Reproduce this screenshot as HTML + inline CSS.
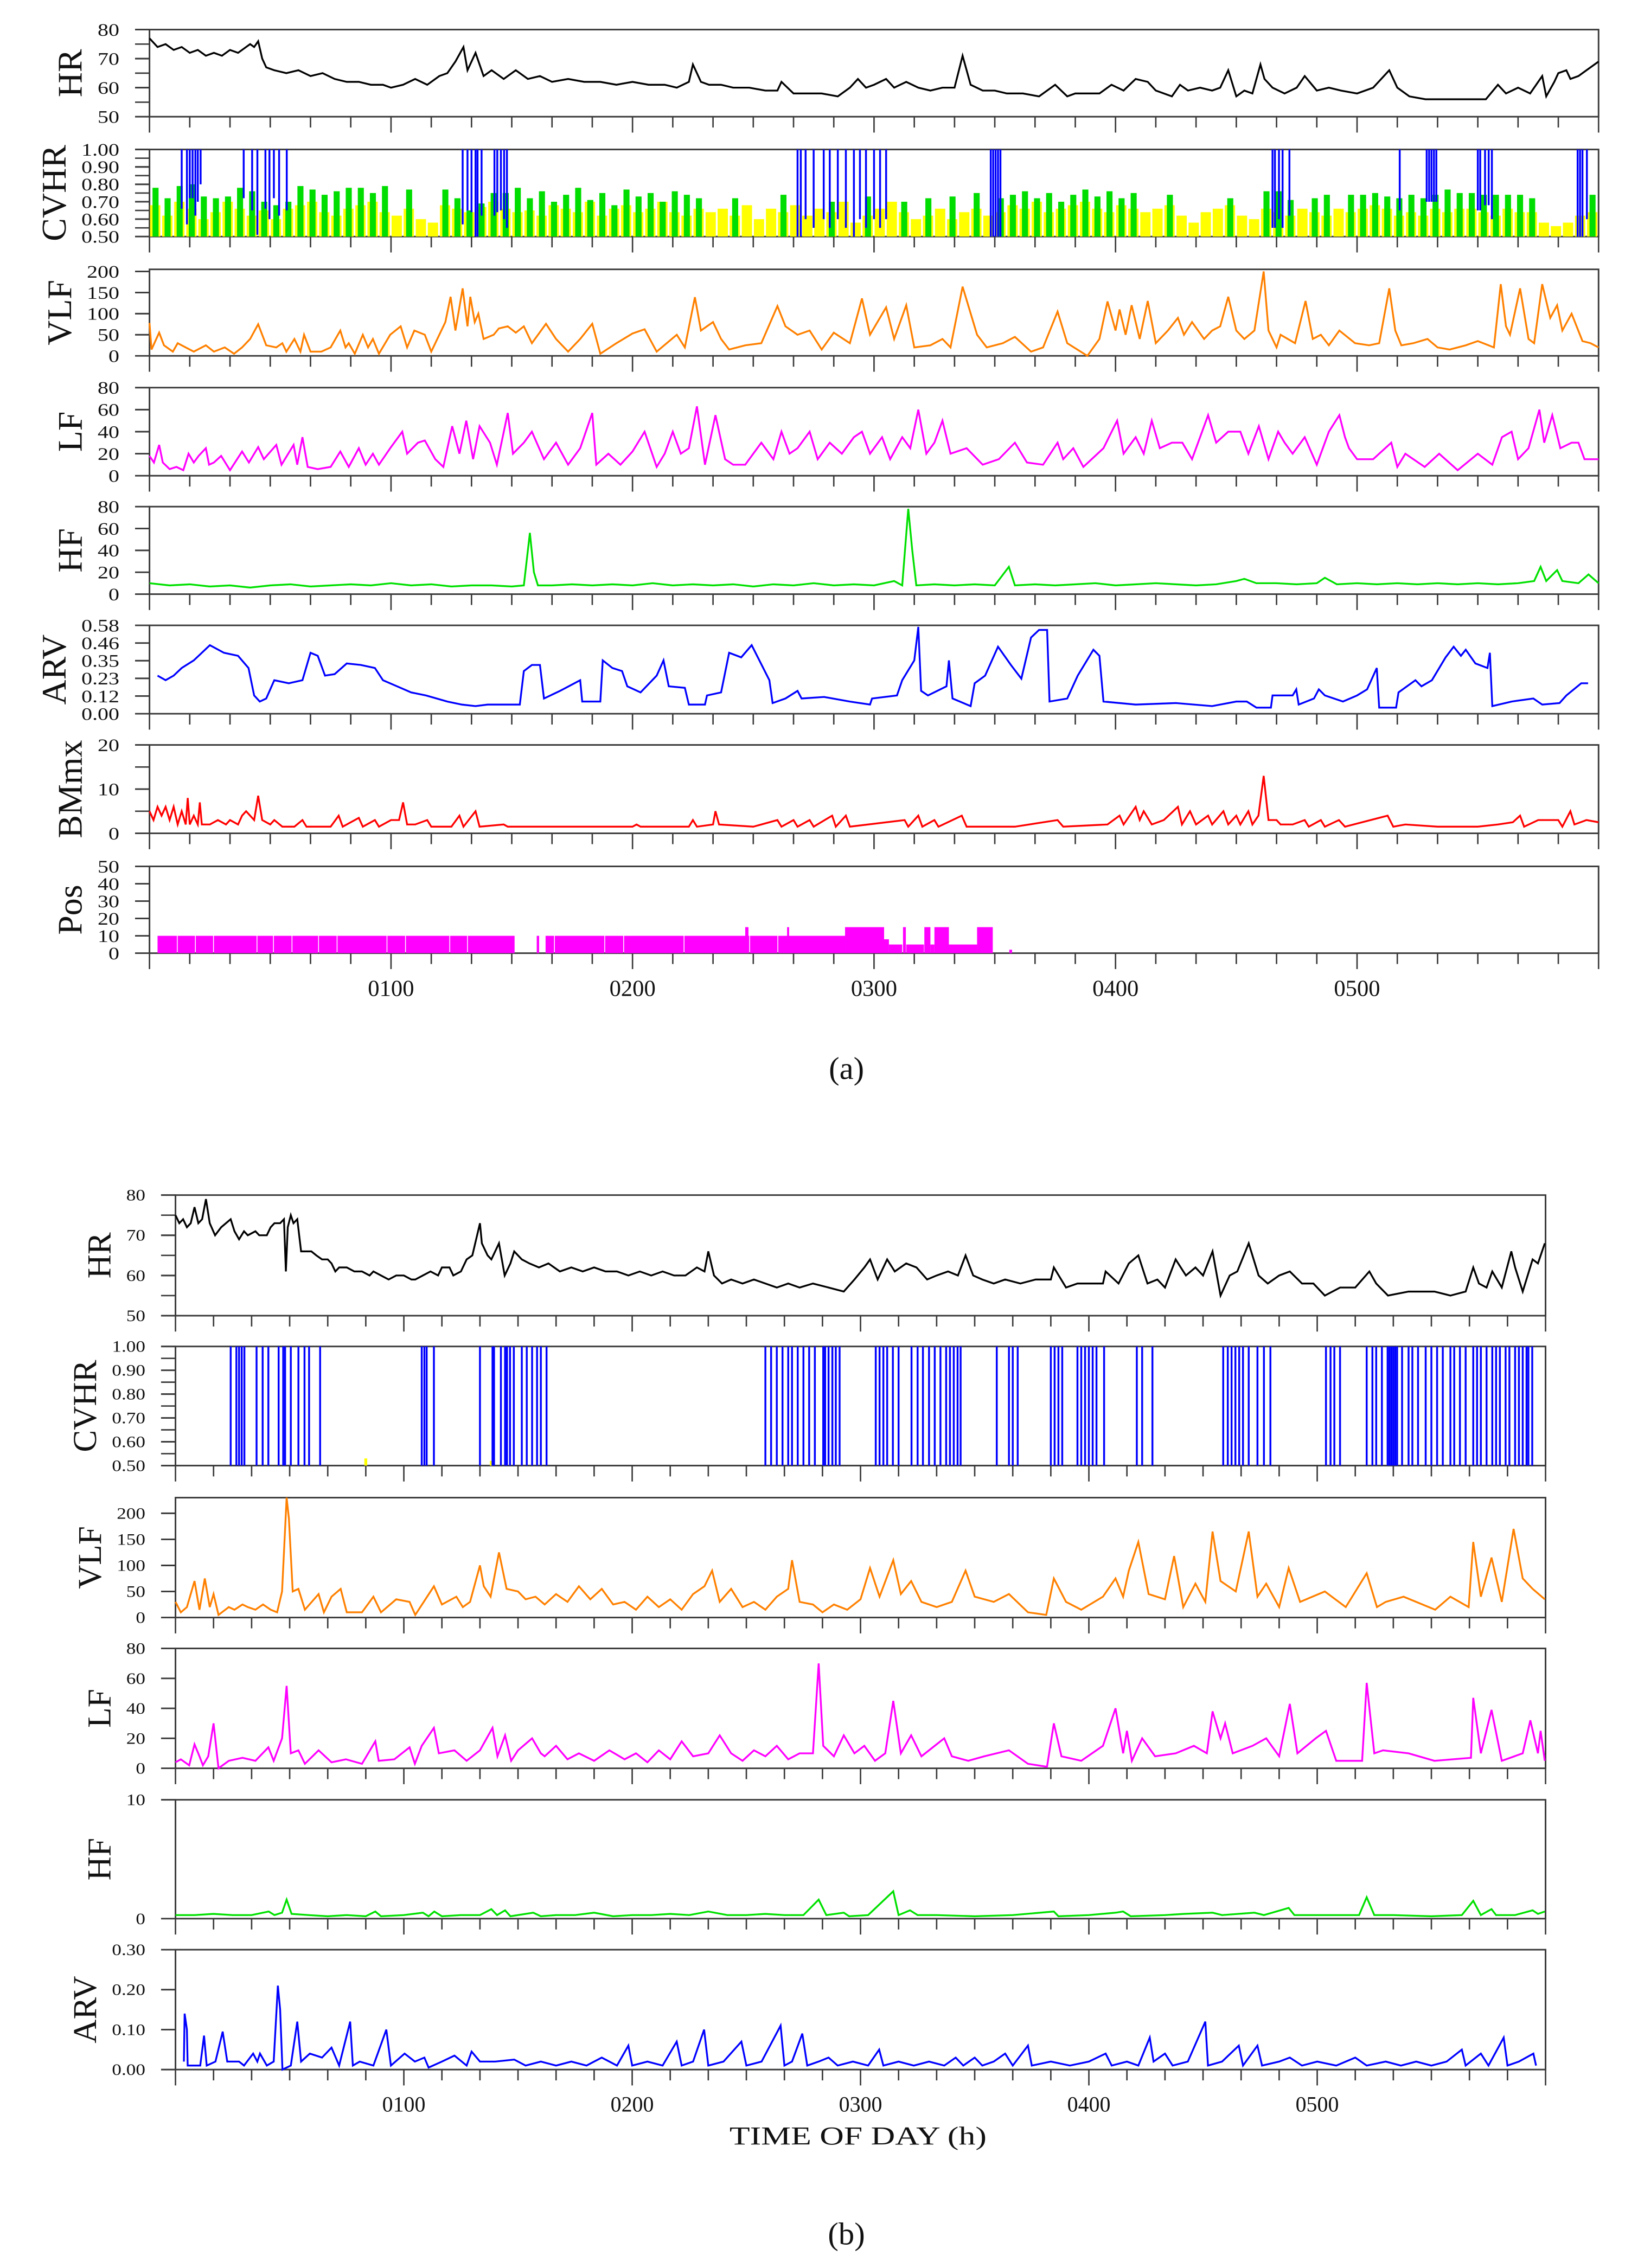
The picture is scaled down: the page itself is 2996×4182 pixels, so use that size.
<!DOCTYPE html>
<html><head><meta charset="utf-8"><title>HRV overnight traces</title>
<style>
html,body{margin:0;padding:0;background:#fff;}
svg{display:block;}
text{font-family:"Liberation Serif","DejaVu Serif",serif;fill:#111;}
</style></head>
<body>
<svg id="chart" xmlns="http://www.w3.org/2000/svg" width="2996" height="4182" viewBox="0 0 1125 1570.4" preserveAspectRatio="none">
<rect x="0" y="0" width="1125" height="1570.4" fill="#fff"/>
<text x="586" y="747" font-size="22" text-anchor="middle">(a)</text>
<text x="594" y="1485" font-size="18" text-anchor="middle" textLength="178" lengthAdjust="spacingAndGlyphs">TIME OF DAY (h)</text>
<text x="586" y="1554" font-size="22" text-anchor="middle">(b)</text>
</svg>
<script>
// ---------------- DATA (time in minutes from 00:00, value) ----------------
const hourTicks=[60,120,180,240,300];
const hourLabels=['0100','0200','0300','0400','0500'];

const hrA=[[0,77],[2,74],[4,75],[6,73],[8,74],[10,72],[12,73],[14,71],[16,72],[18,71],[20,73],[22,72],[24,74],[25,75],[26,74],[27,76],[28,70],[29,67],[31,66],[34,65],[37,66],[40,64],[43,65],[46,63],[49,62],[52,62],[55,61],[58,61],[60,60],[63,61],[66,63],[69,61],[72,64],[74,65],[76,69],[78,74],[79,66],[81,72],[83,64],[85,66],[88,63],[91,66],[94,63],[97,64],[100,62],[104,63],[108,62],[112,62],[116,61],[120,62],[124,61],[128,61],[131,60],[134,62],[135,68],[137,62],[139,61],[142,61],[145,60],[149,60],[153,59],[156,59],[157,62],[160,58],[164,58],[167,58],[171,57],[174,60],[176,63],[178,60],[180,61],[183,63],[185,60],[188,62],[191,60],[194,59],[197,60],[200,60],[202,71],[204,61],[207,59],[210,59],[213,58],[217,58],[221,57],[225,61],[228,57],[230,58],[233,58],[236,58],[239,61],[242,59],[245,63],[248,62],[250,59],[252,58],[254,57],[256,61],[258,59],[261,60],[264,59],[266,60],[268,66],[270,57],[272,59],[274,58],[276,68],[277,63],[279,60],[282,58],[285,60],[287,64],[290,59],[293,60],[296,59],[300,58],[304,60],[308,66],[310,60],[313,57],[317,56],[322,56],[327,56],[332,56],[335,61],[337,58],[340,60],[343,58],[346,64],[347,57],[349,62],[350,65],[352,66],[353,63],[355,64],[357,66],[360,69]];

const cvhrGreenA=[0.78,0.72,0.79,0.80,0.73,0.72,0.73,0.78,0.76,0.70,0.68,0.70,0.79,0.77,0.74,0.76,0.78,0.78,0.75,0.79,0,0.77,0,0,0.77,0.72,0.65,0.69,0.75,0.75,0.78,
0.72,0.76,0.70,0.74,0.78,0.71,0.75,0.68,0.77,0.73,0.75,0.70,0.76,0.74,0.72,
0,0,0.72,0,0,0,0.74,0,
0,0,0.70,0,0,0.73,0,0,0.70,0,
0.72,0,0.73,0,0.75,0,0.72,
0.74,0.76,0.72,0.75,0.70,0.74,0.77,0.73,0.76,0.72,0.75,
0,0,0.74,0,0,0,0,0.72,0,0,
0.76,0.76,0.71,0,0.72,0.74,0,0.74,0.74,0.75,0.73,0.72,0.74,0.72,0.74,0.77,0.75,0.75,0.74,0.74,0.74,0.74,0.72,0,0,0,0,0.74];
const cvhrYellowA=[0.68,0.62,0.70,0.66,0.60,0.64,0.70,0.66,0.62,0.65,0.60,0.66,0.68,0.70,0.64,0.62,0.66,0.68,0.70,0.64,0.62,0.66,0.60,0.58,0.68,0.66,0.64,0.67,0.70,0.66,0.64,
0.65,0.62,0.68,0.66,0.64,0.70,0.62,0.66,0.68,0.64,0.66,0.70,0.64,0.62,0.66,
0.64,0.66,0.62,0.68,0.60,0.66,0.64,0.68,
0.62,0.66,0.64,0.70,0.58,0.62,0.66,0.70,0.64,0.60,
0.62,0.66,0.60,0.64,0.66,0.62,0.64,
0.68,0.66,0.70,0.64,0.66,0.68,0.70,0.66,0.64,0.68,0.66,
0.64,0.66,0.68,0.62,0.58,0.64,0.66,0.68,0.62,0.60,
0.66,0.64,0.62,0.66,0.64,0.62,0.66,0.64,0.66,0.68,0.66,0.62,0.64,0.62,0.66,0.64,0.66,0.66,0.64,0.62,0.66,0.64,0.64,0.58,0.56,0.58,0.62,0.64];
const cvhrBinMinutes=3;
const cvhrBlueA=[[8,0.66],[9.3,0.57],[10,0.72],[10.7,0.72],[11.4,0.62],[12,0.7],[12.7,0.8],[23.4,0.72],[25.5,0.65],[26.8,0.51],[28.8,0.66],[29.8,0.6],[30.9,0.72],[32.2,0.62],[34.1,0.65],[77.8,0.57],[79,0.65],[80,0.64],[81,0.5],[81.5,0.5],[82.5,0.62],[85.7,0.62],[86.4,0.64],[87.3,0.65],[88.1,0.6],[88.8,0.55],[161,0.5],[161.8,0.5],[163,0.6],[165,0.55],[167.5,0.6],[169,0.55],[171,0.6],[173,0.55],[175,0.5],[176.5,0.6],[178,0.55],[180,0.6],[181.5,0.55],[183,0.6],[209,0.5],[209.6,0.5],[210.2,0.5],[210.8,0.5],[211.4,0.5],[279,0.55],[279.6,0.55],[280.6,0.6],[281.5,0.55],[283.2,0.62],[310.6,0.65],[317.3,0.7],[317.9,0.7],[318.5,0.7],[319.1,0.7],[319.7,0.7],[330,0.65],[330.6,0.65],[331.8,0.68],[332.7,0.68],[333.5,0.6],[354.8,0.5],[355.4,0.5],[356,0.5],[357.1,0.6]];

const vlfA=[[0,78],[0.5,15],[2.4,55],[3.6,25],[5.8,10],[7,30],[9,20],[11,10],[14,25],[16,10],[18.7,20],[21,5],[23,20],[25,40],[27,75],[29,25],[31.5,20],[33,30],[34,10],[36,40],[37.5,10],[38.4,50],[40,10],[42.7,10],[45,20],[47.4,60],[48.7,20],[49.5,30],[51,5],[53,50],[54.3,20],[55.5,40],[57,5],[59.8,50],[62.4,70],[64,20],[65.8,60],[68.4,50],[70,10],[73.5,80],[74.8,140],[76,60],[77.8,160],[79,70],[79.7,140],[80.8,80],[81.7,100],[83,40],[85.5,50],[86.8,65],[89,70],[91,55],[93,70],[95,30],[98.5,76],[101,40],[104,10],[107,40],[110,76],[112,5],[116,30],[120,53],[123,63],[126,10],[131,50],[133,20],[135.5,139],[137,60],[140,80],[142,40],[144,15],[148,25],[152,30],[156,118],[158,70],[161,50],[164,60],[167,15],[170,55],[174,30],[177,136],[179,50],[183,115],[185,40],[188,120],[190,20],[194,25],[197,40],[199,20],[202,164],[205.6,50],[208,20],[212,30],[215,45],[219,10],[222,20],[225.6,105],[228,30],[233,0],[236,40],[238,129],[240,60],[241,110],[242.5,50],[244,120],[246,40],[248,130],[250,30],[253,60],[255.5,90],[257,50],[259,80],[262,40],[264,60],[266,70],[268,140],[270,60],[272,40],[274.5,60],[276.8,200],[278,60],[280,20],[281,50],[284.6,30],[287.2,130],[289,40],[291,50],[293,25],[295.6,60],[299.5,30],[303,25],[305.5,30],[308,160],[309.5,60],[311,25],[314,30],[317.5,40],[320,20],[323,15],[327,25],[330,35],[334,20],[335.7,170],[337,70],[338,50],[340.5,160],[342.6,40],[344,30],[346,170],[348,90],[349.7,120],[351,60],[353.3,100],[356,35],[358,30],[360,20]];

const lfA=[[0,18],[1.1,12],[2.4,28],[3.3,12],[5,6],[6.7,8],[8.4,5],[9.7,20],[11,12],[12.2,18],[14,25],[14.8,10],[16,12],[17.8,18],[20,5],[23,22],[24.7,12],[27,26],[28.4,15],[31.5,28],[32.8,10],[35.8,28],[36.7,10],[38,35],[39.3,8],[41.8,6],[45,8],[47.4,22],[49.5,8],[52,25],[53.7,10],[55.5,20],[57,10],[59.8,25],[62.8,40],[64,20],[66.7,30],[68.4,32],[71,15],[73,8],[75.2,45],[77,20],[78.7,50],[80.4,15],[82,45],[84.6,30],[86.3,10],[89,57],[90.3,20],[93,30],[95,40],[98,15],[101,30],[104,10],[107,25],[110,57],[111,10],[114,20],[117,10],[120,22],[123,40],[126,8],[128,20],[130,40],[132,20],[134,25],[136,63],[138,10],[140.6,55],[143,15],[145,10],[148,10],[152,30],[155,15],[157,40],[159,20],[161,25],[164,40],[166,15],[169,30],[172,20],[175,35],[177,40],[179,20],[182,35],[184,15],[187,35],[189,25],[191,60],[193,20],[195,30],[197,50],[199,20],[203,25],[207,10],[211,15],[215,30],[218,12],[222,10],[225.6,30],[227,15],[229.5,25],[232,8],[237,25],[240.4,50],[242,20],[245,35],[247,20],[249,50],[251,25],[254,30],[256.6,30],[259,15],[261,35],[263,55],[265,30],[268,40],[271,40],[273,20],[275.6,45],[278,15],[280.4,40],[282,30],[284,20],[287,35],[290,10],[293,40],[295.6,55],[297,35],[298,25],[300,15],[304,15],[308.5,30],[310,8],[312,20],[316.8,8],[320.4,20],[325,5],[330,20],[333.6,10],[336,35],[338.4,40],[340,15],[342.6,25],[345.3,60],[346.5,30],[348.5,55],[350.5,25],[353.3,30],[355,30],[356.5,15],[360,15]];

const hfA=[[0,10],[5,8],[10,9],[15,7],[20,8],[25,6],[30,8],[35,9],[40,7],[45,8],[50,9],[55,8],[60,10],[65,8],[70,9],[75,7],[80,8],[85,8],[90,7],[93,8],[94.5,56],[95.5,20],[96.5,8],[100,8],[105,9],[110,8],[115,9],[120,8],[125,10],[130,8],[135,9],[140,8],[145,9],[150,7],[155,9],[160,8],[165,10],[170,8],[175,9],[180,8],[185,12],[187,8],[188.5,78],[189.5,40],[190.5,8],[195,9],[200,8],[205,9],[210,8],[213.5,25],[215,8],[220,9],[225,8],[230,9],[235,10],[240,8],[245,9],[250,10],[255,9],[260,8],[265,9],[270,12],[272,14],[275,10],[280,10],[285,9],[290,10],[292,15],[295,9],[300,10],[305,9],[310,10],[315,9],[320,10],[325,9],[330,10],[335,9],[340,10],[344,12],[345.6,25],[347,12],[349.7,22],[351,12],[355,10],[357.5,18],[360,10]];

const arvA=[[2,0.25],[4,0.22],[6,0.25],[8,0.30],[11,0.35],[13,0.40],[15,0.45],[18.5,0.40],[22,0.38],[24.6,0.30],[26,0.12],[27.4,0.08],[29,0.10],[31,0.22],[34.6,0.20],[38,0.22],[40,0.40],[41.8,0.38],[43.6,0.25],[46,0.26],[49,0.33],[52.5,0.32],[56,0.30],[58,0.22],[61.5,0.18],[65,0.14],[68.7,0.12],[74,0.08],[77.6,0.06],[81,0.05],[84,0.06],[92,0.06],[93,0.28],[95,0.32],[97,0.32],[98,0.10],[102,0.15],[107,0.22],[107.5,0.08],[112,0.08],[112.6,0.35],[115,0.30],[117.4,0.28],[118.7,0.18],[122,0.14],[126,0.25],[127.7,0.35],[129,0.18],[133,0.17],[134,0.06],[138,0.06],[138.5,0.12],[142,0.14],[144,0.40],[147,0.37],[149.6,0.45],[154,0.22],[154.8,0.07],[158,0.10],[161,0.15],[162,0.10],[167.6,0.11],[174,0.08],[179,0.06],[179.5,0.10],[185.7,0.12],[187,0.22],[190,0.35],[191,0.57],[191.7,0.15],[193.4,0.12],[198,0.18],[198.6,0.35],[199.5,0.10],[204,0.05],[205,0.20],[207.6,0.25],[210.8,0.44],[214,0.32],[216.6,0.23],[219,0.50],[221,0.55],[223,0.55],[223.6,0.08],[228,0.10],[230.6,0.25],[234.5,0.42],[236,0.38],[237,0.08],[245,0.06],[255,0.07],[264,0.05],[270,0.08],[272.6,0.08],[275,0.04],[278.6,0.04],[279,0.12],[284,0.12],[284.9,0.16],[285.5,0.06],[289.3,0.10],[290.5,0.16],[292,0.12],[296.5,0.08],[300,0.12],[302.5,0.16],[304.9,0.30],[305.5,0.04],[309.7,0.04],[310.3,0.14],[314.5,0.22],[316,0.18],[318.6,0.22],[322,0.37],[324,0.44],[325.8,0.38],[327,0.42],[329.4,0.33],[332.4,0.30],[333,0.40],[333.6,0.05],[338.4,0.08],[343.8,0.10],[346,0.06],[350.3,0.07],[352,0.12],[355.7,0.20],[357.4,0.20]];

const bmA=[[0,5],[1,3],[2,6],[3,4],[4,6],[5,3],[6,6],[7,2],[8,5],[9,2],[9.5,8],[10,2],[11,4],[12,2],[12.5,7],[13,2],[15,2],[17,3],[19,2],[20,3],[22,2],[23,4],[24,5],[25,4],[26,3],[27,8.5],[28,3],[30,2],[31,3],[33,1.5],[36,1.5],[38,3],[39,1.5],[45,1.5],[47,4],[48,1.5],[52,3.5],[53,1.5],[56,3],[57,1.5],[59,2.5],[60,3],[62,3],[63,7],[64,2],[66,2],[69,3],[70,1.5],[75,1.5],[77,4],[78,1.5],[81,5],[82,1.5],[88,2],[89,1.5],[100,1.5],[120,1.5],[121,2],[122,1.5],[134,1.5],[135,3],[136,1.5],[140,2],[140.6,5],[141.5,2],[150,1.5],[156,3],[157,1.5],[160,3],[161,1.5],[164,3],[165,1.5],[169.6,4],[170.5,1.5],[173,4],[174,1.5],[187.6,3],[188.5,1.5],[191,4],[192,1.5],[195,3],[196,1.5],[201.8,4],[203,1.5],[215,1.5],[225.6,3],[227,1.5],[238,2],[241,4],[242,2],[245,6],[246,3],[247,5],[249,2],[252,3],[255.5,6],[256.5,2],[258.5,5],[260,2],[263,4],[264,2],[266.8,5],[268,2],[270,4],[271,2],[273,5],[274,2],[275.5,4],[276.8,13],[278,3],[280,3],[281,2],[284,2],[287,3],[288,1.5],[291,3],[292,1.5],[295.5,3],[297,1.5],[307.6,4],[309,1.5],[312,2],[320,1.5],[330,1.5],[335,2],[338.7,2.5],[340.5,4],[341.5,1.5],[345,3],[348,3],[350,3],[351,1.5],[353,5],[354,2],[357,3],[360,2.5]];

// position segments: [start min, end min, value]
const posA=[[2,6.8,10],[7,11.3,10],[11.5,15.8,10],[16,26.6,10],[26.8,30.7,10],[30.9,35.3,10],[35.5,41.9,10],[42.1,46.5,10],[46.7,58.9,10],[59.1,63.5,10],[63.7,74.5,10],[74.7,78.9,10],[79.1,90.7,10],[96.2,96.8,10],[98.4,100.5,10],[100.7,113,10],[113.2,117.7,10],[117.9,132.7,10],[132.9,149,10],[148,148.8,15],[149.2,156,10],[156.2,172.8,10],[158.4,158.9,15],[172.8,182.5,15],[182.5,183.7,8],[183.7,187,5],[187.2,187.9,15],[188,192.4,5],[192.5,194,15],[194,195,5],[195,198.6,15],[198.6,205.6,5],[205.6,209.5,15],[213.6,214.3,2]];

const hrB=[[0,75],[1,73],[2,74],[3,72],[4,73],[5,77],[6,73],[7,74],[8,79],[9,73],[10.4,70],[12,72],[14.5,74],[15.5,71],[16.7,69],[18,71],[19,70],[21,71],[22,70],[24,70],[25,72],[26,73],[27.5,73],[28.5,74],[29,61],[29.5,72],[30.3,75],[31,73],[32,74],[33,66],[34.5,66],[35.7,66],[37,65],[38.5,64],[40,64],[41,63],[42,61],[43,62],[45,62],[47,61],[49,61],[51,60],[52,61],[54,60],[56,59],[58,60],[60,60],[62,59],[63,59],[65,60],[67,61],[69,60],[70,62],[72,62],[73,60],[75,61],[76.5,64],[78,65],[80,73],[80.5,68],[82,65],[83,64],[85,68],[86.5,60],[88,63],[89,66],[91,64],[93,63],[95.5,62],[98,63],[101,61],[104,62],[107,61],[110,62],[113,61],[116,61],[119,60],[122,61],[125,60],[128,61],[131,60],[134,60],[137,62],[139,61],[140,66],[141.5,60],[143.6,58],[146,59],[149,58],[152,59],[155,58],[158,57],[161,58],[164,57],[167.5,58],[171.6,57],[175.6,56],[178.4,59],[181,62],[182.5,64],[184.5,59],[187,64],[189,61],[192,63],[194.7,62],[197.5,59],[200,60],[203,61],[205.6,60],[207.6,65],[209.6,60],[212,59],[215,58],[218,59],[222,58],[226,59],[230,59],[230.8,62],[234,57],[237,58],[239.6,58],[243.7,58],[244.4,61],[247.8,58],[250.5,63],[253,65],[255.4,58],[258,59],[260,57],[262.8,64],[265.5,60],[268,62],[270,60],[272.5,66],[274.6,55],[277,60],[279,61],[282,68],[284.6,60],[287,58],[290,60],[292.8,61],[296,58],[299,58],[302,55],[306,57],[310,57],[313.7,61],[315.5,58],[318.6,55],[324,56],[330.8,56],[335,55],[339,56],[341,62],[342.5,58],[344.5,57],[346,61],[348.5,57],[351,66],[352,62],[354,56],[356.6,64],[358,63],[359.8,68]];

const cvhrBlueB=[14.5,16,16.7,17.4,18.1,21.3,22.9,24.4,27.1,28.3,28.8,30.3,32.3,33.9,35.1,38,64.7,65.4,66,67.9,80,83.3,83.7,85.5,86.6,87.1,87.9,88.9,91,92.3,93.7,95,96,97.5,155,156.5,158,159.5,161,162,163.5,165,166.5,168,170.2,170.7,171.6,172.6,173.5,174.5,184,185,186,187,188.5,190,193.4,195,196.4,198,199.5,201,202.5,203.5,204.5,205.5,206.3,215.8,219,220,221.3,230,231,232,233,237,238,239,240,241,242,244,252.6,254,256.7,275.3,276.5,277.5,278.5,279.5,280.5,282,284.3,286,287.7,302.3,303.5,304.5,306,313,314.5,315.5,317,318.5,319,319.5,320,320.5,321,322.3,324,325,326.5,328.5,330,331.5,333,335,336,337.5,339,341,342,343,344.5,346,347,348,349.5,350.5,352,353,354,355,355.5,356.5];
const cvhrYellowB=[[50,0.53],[83,0.52]];

const vlfB=[[0,30],[1.4,10],[3,20],[5,70],[6.3,15],[7.7,75],[9,20],[10,45],[11.3,5],[14,20],[15.5,15],[17.6,25],[19,20],[21,15],[23,25],[25,15],[26.7,10],[28,50],[29.2,230],[29.8,190],[30.8,50],[32.3,55],[34,15],[37.6,45],[39,10],[41,40],[43.4,55],[45,10],[49,10],[52,40],[54,10],[58,35],[61.5,30],[63,5],[67.9,60],[70,25],[73.8,40],[75.5,20],[77.4,30],[80,100],[81,60],[82.8,40],[85,125],[87,55],[90,50],[92,35],[94.6,40],[97,25],[100,45],[103,30],[106,60],[109,35],[112,55],[115,25],[118,30],[121,15],[124,40],[127,20],[130,35],[133,15],[136,45],[139,60],[141,90],[143,30],[146,55],[149,20],[152,30],[155,15],[158,40],[161,55],[162,110],[164,30],[167.5,25],[170,10],[173,25],[176.5,15],[180,35],[182.5,95],[185,40],[188.6,110],[190.6,45],[193.3,70],[196,30],[200,20],[204,30],[207.6,90],[210,40],[215,30],[219,45],[224,10],[228.8,5],[230.8,75],[234,30],[238,15],[243.7,40],[247,75],[249,40],[250.5,90],[253,145],[255.7,45],[260,35],[262.4,118],[264.8,20],[268,65],[270.6,30],[272.5,165],[274.6,70],[278.6,50],[282,165],[284.3,40],[286.6,65],[290,20],[292.5,95],[295.5,30],[302,50],[307.5,20],[313,85],[315.7,20],[318,30],[322.7,40],[331,15],[335,40],[339.8,20],[341,145],[343,40],[345.8,115],[348.5,30],[351.6,170],[354,75],[356.6,55],[359.8,35]];

const lfB=[[0,4],[1.4,6],[3.6,2],[5,16],[6.3,8],[7.2,2],[8.6,8],[10,30],[11.3,0],[14,5],[17.6,7],[21,5],[24.4,14],[25.8,5],[28,20],[29.2,55],[30.3,10],[32.3,12],[34,3],[37.6,12],[41,4],[44.8,6],[49,3],[52.5,18],[53.4,5],[57.5,6],[61.5,14],[62.9,3],[64.7,15],[67.9,27],[69.2,10],[73.3,12],[76.5,5],[80,12],[83.3,27],[84.6,8],[86.6,22],[88.2,5],[90,12],[93.7,20],[96,10],[97,8],[100,15],[103,6],[106,10],[110,5],[114,12],[118,6],[121,10],[124,4],[127,12],[130,6],[133,18],[136,8],[140,10],[143,22],[146,10],[149,5],[152,12],[155,8],[158,15],[161,6],[164,10],[167.5,10],[169,70],[170.2,15],[173,8],[175.6,22],[178.4,10],[181,15],[183.8,5],[186.5,10],[188.6,45],[190.6,10],[193.3,22],[196,8],[202,20],[204,8],[208.3,5],[212.5,8],[219,12],[224,3],[229,1],[230.8,30],[232.8,8],[238,5],[243.7,15],[247,40],[249,10],[250,25],[251.3,5],[254,20],[257.4,8],[262.8,10],[267.6,15],[271,10],[272.5,38],[274.6,20],[275.8,30],[277.8,10],[283,15],[286.6,20],[290,8],[292.8,43],[294.8,10],[299.6,20],[302.3,25],[305,5],[311.8,5],[313,57],[315,10],[317.3,12],[324,10],[330.8,5],[340.4,7],[341,47],[343,10],[345.8,39],[348.5,5],[354,10],[356,32],[358,10],[358.7,25],[359.8,5]];

const hfB=[[0,0.3],[5,0.3],[10,0.4],[15,0.3],[20,0.3],[24.5,0.6],[26,0.3],[28,0.5],[29.2,1.6],[30.5,0.4],[35,0.3],[40,0.2],[45,0.3],[50,0.2],[52.5,0.6],[54,0.2],[60,0.3],[65,0.5],[66.5,0.2],[68,0.6],[70,0.2],[75,0.3],[80,0.3],[83,0.8],[84.5,0.3],[86.6,0.7],[88,0.2],[94,0.5],[96,0.2],[100,0.3],[105,0.3],[110,0.5],[115,0.2],[120,0.3],[125,0.3],[130,0.4],[135,0.3],[140,0.6],[145,0.3],[150,0.3],[155,0.4],[160,0.3],[165,0.3],[169,1.6],[171,0.3],[175.6,0.5],[177,0.2],[182,0.3],[188.6,2.3],[190,0.3],[193,0.7],[195,0.3],[200,0.3],[210,0.2],[220,0.3],[230.8,0.6],[232,0.2],[240,0.3],[247,0.5],[249,0.6],[251,0.2],[260,0.3],[265,0.4],[272.5,0.5],[275,0.3],[283.5,0.5],[286,0.3],[292.5,0.9],[294,0.3],[300,0.3],[305,0.3],[311,0.3],[313,1.8],[315,0.3],[320,0.3],[330,0.2],[338,0.3],[341,1.5],[343,0.3],[345.8,0.8],[347,0.3],[352,0.3],[356.6,0.7],[358,0.4],[359.8,0.6]];

const arvB=[[2.2,0.02],[2.4,0.14],[3,0.10],[3.2,0.01],[6.5,0.01],[7.5,0.085],[8.2,0.01],[10.5,0.02],[12.4,0.095],[13.6,0.02],[16.7,0.02],[18,0.01],[20.4,0.04],[21.5,0.02],[22.2,0.04],[24,0.01],[25.8,0.02],[26.9,0.21],[27.5,0.15],[28.1,0.0],[30.3,0.01],[32,0.12],[33,0.02],[35.3,0.04],[38.5,0.03],[41,0.055],[43,0.01],[45.9,0.12],[46.6,0.01],[48.4,0.02],[52,0.01],[55.4,0.10],[56.6,0.01],[60.2,0.04],[62.9,0.02],[65.4,0.03],[66.5,0.005],[70,0.02],[73.3,0.035],[76.5,0.01],[77.8,0.045],[80,0.02],[84,0.02],[89,0.025],[92,0.01],[96,0.02],[100,0.01],[104,0.02],[108,0.01],[112,0.03],[116,0.01],[119,0.06],[120,0.01],[124,0.02],[128,0.01],[131.7,0.07],[133,0.01],[136,0.02],[138.9,0.10],[140,0.01],[144,0.02],[148.7,0.07],[150,0.01],[154,0.02],[159,0.11],[160,0.01],[162,0.02],[164.7,0.09],[166,0.01],[169,0.02],[171.6,0.03],[174,0.01],[178,0.02],[182,0.01],[184.9,0.05],[186,0.01],[190,0.02],[194,0.01],[198,0.02],[202,0.01],[205,0.03],[207,0.01],[210,0.03],[212,0.01],[215,0.02],[218,0.04],[220,0.01],[224,0.06],[225,0.01],[230,0.02],[235,0.01],[240,0.02],[244.4,0.04],[246,0.01],[250,0.02],[253,0.01],[256,0.08],[257,0.02],[260,0.04],[262,0.01],[266,0.02],[270.6,0.12],[271.3,0.01],[275,0.02],[279.4,0.06],[280.5,0.01],[284.3,0.06],[285.5,0.01],[290,0.02],[292.8,0.03],[296,0.01],[300,0.02],[305,0.01],[310,0.03],[313,0.01],[318,0.02],[322,0.01],[326,0.02],[330,0.01],[334,0.02],[338,0.05],[339,0.01],[343,0.04],[345,0.01],[349,0.08],[350,0.01],[353,0.02],[356.8,0.04],[357.5,0.01]];

// tick label arrays
const ticksHR=[50,60,70,80];
const ticksCVHR=[0.5,0.6,0.7,0.8,0.9,1.0];
const ticksVLF=[0,50,100,150,200];
const ticksLF=[0,20,40,60,80];
const ticksARVa=['0.00','0.12','0.23','0.35','0.46','0.58'];
const ticksBM=[0,10,20];
const ticksPos=[0,10,20,30,40,50];
const ticksHFb=[0,10];
const ticksARVb=[0,0.1,0.2,0.3];

// ---------------- LAYOUT ----------------
const NS='http://www.w3.org/2000/svg';
const svg=document.getElementById('chart');
const T_MAX=360;
function mk(tag,attrs,parent){const e=document.createElementNS(NS,tag);for(const k in attrs)e.setAttribute(k,attrs[k]);(parent||svg).appendChild(e);return e;}

const figA={x0:103.5,x1:1106.7,fs:12.5,titleFs:24,hourFs:16,hourBase:689.7,id:'a'};
const figB={x0:121.5,x1:1070,fs:11,titleFs:23,hourFs:15,hourBase:1462,id:'b'};

function fmt(v,d){return (typeof v==='string')?v:v.toFixed(d);}

function panel(fig,o){
  const p=Object.assign({fig:fig},o);
  p.x=t=>fig.x0+(fig.x1-fig.x0)*t/T_MAX;
  p.y=v=>p.bot-(v-p.min)/(p.max-p.min)*(p.bot-p.top);
  const g=mk('g',{});
  
  
  p.g=g;
  const fr=mk('rect',{x:fig.x0,y:p.top,width:fig.x1-fig.x0,height:p.bot-p.top,fill:'none',stroke:'#3a3a3a','stroke-width':1.1},g);
  
  
  if(p.minor){
    for(let v=p.min;v<=p.max+1e-9;v+=p.minor){
      const yy=p.y(v);
      const tk=mk('line',{x1:fig.x0-10,x2:fig.x0,y1:yy,y2:yy,stroke:'#3a3a3a','stroke-width':1},g);
      
      
    }
  }
  let maxW=0;
  p.ticks.forEach((tv,i)=>{
    const v=(typeof tv==='string')?(p.tickVals?p.tickVals[i]:parseFloat(tv)):tv;
    const yy=p.y(v);
    const tk=mk('line',{x1:fig.x0-10,x2:fig.x0,y1:yy,y2:yy,stroke:'#3a3a3a','stroke-width':1.1},g);
    
    
    const s=fmt(tv,p.dec||0);
    let w=0;for(const ch of s)w+=(ch==='.'?0.25:0.5)*fig.fs*1.2;
    maxW=Math.max(maxW,w);
    const tx=mk('text',{transform:`translate(${fig.x0-20.9},${yy+fig.fs*0.34}) scale(1.2,1)`,'font-size':fig.fs,'text-anchor':'end'},g);
    tx.textContent=s;
    
    
  });
  const xr=fig.x0-20.9-maxW-11;
  const cy=(p.top+p.bot)/2;
  const tt=mk('text',{transform:`translate(${xr},${cy}) rotate(-90)`,'font-size':fig.titleFs,'text-anchor':'middle'},g);
  tt.textContent=p.title;
  
  
  for(let t=0;t<=T_MAX;t+=10){
    const xx=p.x(t);const len=(t%60===0)?11:7.5;
    const tk=mk('line',{x1:xx,x2:xx,y1:p.bot,y2:p.bot+len,stroke:'#3a3a3a','stroke-width':1},g);
    
    
  }
  return p;
}

function drawLine(p,data,color,name){
  const pts=data.map(d=>p.x(d[0]).toFixed(2)+','+p.y(d[1]).toFixed(2)).join(' ');
  const pl=mk('polyline',{points:pts,fill:'none',stroke:color,'stroke-width':1.25,'stroke-linejoin':'miter'},p.g);
  
  
}

function hourLabelsFor(p){
  hourTicks.forEach((t,i)=>{
    const tx=mk('text',{x:p.x(t),y:p.fig.hourBase,'font-size':p.fig.hourFs,'text-anchor':'middle'});
    tx.textContent=hourLabels[i];
    
    
  });
}

// ---------------- FIGURE (a) ----------------
const pa=[];
pa.push(panel(figA,{key:'hr',title:'HR',top:20.5,bot:80.8,min:50,max:80,ticks:ticksHR,minor:5}));
pa.push(panel(figA,{key:'cvhr',title:'CVHR',top:103.5,bot:163.8,min:0.5,max:1,ticks:ticksCVHR,minor:0.05,dec:2}));
pa.push(panel(figA,{key:'vlf',title:'VLF',top:186.5,bot:246.4,min:0,max:205,ticks:ticksVLF}));
pa.push(panel(figA,{key:'lf',title:'LF',top:268.4,bot:329.4,min:0,max:80,ticks:ticksLF}));
pa.push(panel(figA,{key:'hf',title:'HF',top:350.8,bot:411.4,min:0,max:80,ticks:ticksLF}));
pa.push(panel(figA,{key:'arv',title:'ARV',top:433,bot:494.2,min:0,max:0.58,ticks:ticksARVa,tickVals:[0,0.116,0.232,0.348,0.464,0.58]}));
pa.push(panel(figA,{key:'bm',title:'BMmx',top:515.8,bot:577,min:0,max:20,ticks:ticksBM,minor:5}));
pa.push(panel(figA,{key:'pos',title:'Pos',top:599.9,bot:660,min:0,max:50,ticks:ticksPos}));

drawLine(pa[0],hrA,'#000','hr-a-line');
(function(){
  const p=pa[1];
  cvhrYellowA.forEach((v,i)=>{
    if(!v)return;
    const xa=p.x(i*cvhrBinMinutes),xb=p.x((i+1)*cvhrBinMinutes);
    const r=mk('rect',{x:xa+0.4,y:p.y(v),width:(xb-xa)*0.85,height:p.bot-p.y(v),fill:'#ffff00'},p.g);
    
    
  });
  cvhrGreenA.forEach((v,i)=>{
    if(!v)return;
    const xa=p.x(i*cvhrBinMinutes),xb=p.x((i+1)*cvhrBinMinutes);
    const r=mk('rect',{x:xa+(xb-xa)*0.25,y:p.y(v),width:(xb-xa)*0.5,height:p.bot-p.y(v),fill:'#00dd00'},p.g);
    
    
  });
  cvhrBlueA.forEach(d=>{
    const xx=p.x(d[0]);
    const l=mk('line',{x1:xx,x2:xx,y1:p.y(1),y2:p.y(d[1]),stroke:'#0000ff','stroke-width':1.3},p.g);
    
    
  });
})();
drawLine(pa[2],vlfA,'#ff8000','vlf-a-line');
drawLine(pa[3],lfA,'#ff00ff','lf-a-line');
drawLine(pa[4],hfA,'#00e000','hf-a-line');
drawLine(pa[5],arvA,'#0000ff','arv-a-line');
drawLine(pa[6],bmA,'#ff0000','bmmx-a-line');
(function(){
  const p=pa[7];
  posA.forEach(s=>{
    const r=mk('rect',{x:p.x(s[0]),y:p.y(s[2]),width:Math.max(0.6,p.x(s[1])-p.x(s[0])),height:p.bot-p.y(s[2]),fill:'#ff00ff'},p.g);
    
    
  });
})();
hourLabelsFor(pa[7]);

// ---------------- FIGURE (b) ----------------
const pb=[];
pb.push(panel(figB,{key:'hr',title:'HR',top:827.5,bot:911,min:50,max:80,ticks:ticksHR,minor:5}));
pb.push(panel(figB,{key:'cvhr',title:'CVHR',top:932.3,bot:1014.8,min:0.5,max:1,ticks:ticksCVHR,minor:0.05,dec:2}));
pb.push(panel(figB,{key:'vlf',title:'VLF',top:1037,bot:1120,min:0,max:230,ticks:ticksVLF}));
pb.push(panel(figB,{key:'lf',title:'LF',top:1141.4,bot:1224.4,min:0,max:80,ticks:ticksLF}));
pb.push(panel(figB,{key:'hf',title:'HF',top:1246.2,bot:1328.5,min:0,max:10,ticks:ticksHFb}));
pb.push(panel(figB,{key:'arv',title:'ARV',top:1350,bot:1433,min:0,max:0.3,ticks:ticksARVb,dec:2}));

drawLine(pb[0],hrB,'#000','hr-b-line');
(function(){
  const p=pb[1];
  cvhrYellowB.forEach(d=>{
    const r=mk('rect',{x:p.x(d[0])-1,y:p.y(d[1]),width:2,height:p.bot-p.y(d[1]),fill:'#ffff00'},p.g);
    
    
  });
  cvhrBlueB.forEach(t=>{
    const xx=p.x(t);
    const l=mk('line',{x1:xx,x2:xx,y1:p.y(1),y2:p.y(0.5),stroke:'#0000ff','stroke-width':1.3},p.g);
    
    
  });
})();
drawLine(pb[2],vlfB,'#ff8000','vlf-b-line');
drawLine(pb[3],lfB,'#ff00ff','lf-b-line');
drawLine(pb[4],hfB,'#00e000','hf-b-line');
drawLine(pb[5],arvB,'#0000ff','arv-b-line');
hourLabelsFor(pb[5]);
</script>
</body></html>
